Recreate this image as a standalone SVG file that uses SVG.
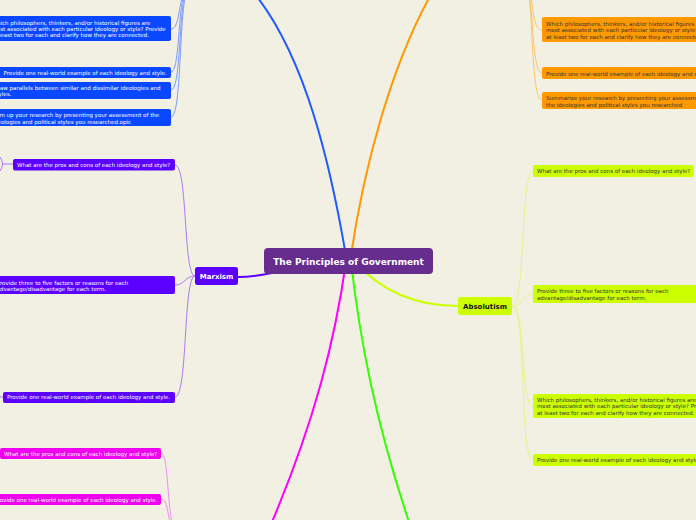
<svg xmlns="http://www.w3.org/2000/svg" width="696" height="520" viewBox="0 0 696 520">
<style>
.t{font-family:"DejaVu Sans",Verdana,sans-serif;font-size:5.5px}
.w{fill:#ffffff}
.d{fill:#333333}
.c{fill:none;stroke-width:1}
.m{fill:none;stroke-width:2}
.hb{font-family:"DejaVu Sans",Verdana,sans-serif;font-weight:bold;text-anchor:middle}
</style>
<rect width="696" height="520" fill="#f2efe3"/>
<g id="connectors">
  <path class="m" stroke="#1f5cff" d="M347,262 C330,160 305,60 258,-2"/>
  <path class="m" stroke="#ff9900" d="M350,262 C363,170 390,70 429,-2"/>
  <path class="m" stroke="#ff00ff" d="M346,262 C335,340 315,420 272,522"/>
  <path class="m" stroke="#33ff00" d="M351,262 C360,340 375,420 409,522"/>
  <path class="m" stroke="#ccff00" d="M355,262 C385,295 420,306 458,306"/>
  <path class="m" stroke="#5b00ff" d="M238,277 C262,277 272,272 300,268"/>
  <!-- blue children -->
  <path class="c" stroke="#7a9cff" d="M171,29 C178,29 178,14 182,-2"/>
  <path class="c" stroke="#7a9cff" d="M171,72 C179,72 178,20 183,-2"/>
  <path class="c" stroke="#7a9cff" d="M171,90 C180,90 179,25 184,-2"/>
  <path class="c" stroke="#7a9cff" d="M171,117 C181,117 179,30 185,-2"/>
  <!-- orange children -->
  <path class="c" stroke="#ffc46b" d="M542,30 C534,30 534,14 531,-2"/>
  <path class="c" stroke="#ffc46b" d="M542,73 C533,73 533,20 530,-2"/>
  <path class="c" stroke="#ffc46b" d="M542,100 C532,100 533,25 529,-2"/>
  <!-- purple children -->
  <path class="c" stroke="#a77cf0" d="M195,276 C183,276 188,165 175,165"/>
  <path class="c" stroke="#a77cf0" d="M195,276 C185,276 185,285 175,285"/>
  <path class="c" stroke="#a77cf0" d="M195,276 C183,276 188,397 175,397"/>
  <path class="c" stroke="#a77cf0" d="M0,157 Q5,164 0,171 M3,164 H13"/>
  <path class="c" stroke="#a77cf0" d="M0,397 H3"/>
  <!-- lime children -->
  <path class="c" stroke="#e3f58a" d="M512,306 C526,306 520,171 533,171"/>
  <path class="c" stroke="#e3f58a" d="M512,306 C524,306 522,294 533,294"/>
  <path class="c" stroke="#e3f58a" d="M512,306 C526,306 520,406 533,406"/>
  <path class="c" stroke="#e3f58a" d="M512,306 C527,306 519,460 533,460"/>
  <!-- magenta children -->
  <path class="c" stroke="#f08ef0" d="M161,453 C168,453 167,500 172,522"/>
  <path class="c" stroke="#f08ef0" d="M161,499 C167,499 167,510 170,522"/>
</g>
<g id="center">
  <rect x="264" y="248" width="169" height="26" rx="4" fill="#662d8f"/>
  <text class="hb w" x="348.5" y="265" font-size="9">The Principles of Government</text>
</g>
<g id="marxism">
  <rect x="195" y="267" width="43" height="18" rx="2.5" fill="#5b00ff"/>
  <text class="hb w" x="216.5" y="279" font-size="7">Marxism</text>
</g>
<g id="absolutism">
  <rect x="458" y="297" width="54" height="18" rx="2.5" fill="#ccff00"/>
  <text class="hb" x="485" y="309" font-size="7" fill="#111">Absolutism</text>
</g>
<g id="blue-philosophers">
  <rect x="-12" y="16" width="183" height="25" rx="2" fill="#0a48ff"/>
  <text class="t w" x="-8.5" y="24.5">Which philosophers, thinkers, and/or historical figures are</text>
  <text class="t w" x="-8.5" y="31">most associated with each particular ideology or style? Provide</text>
  <text class="t w" x="-8.5" y="37">at least two for each and clarify how they are connected.</text>
</g>
<g id="blue-example">
  <rect x="-12" y="67" width="183" height="11" rx="2" fill="#0a48ff"/>
  <text class="t w" x="3.5" y="74.7">Provide one real-world example of each ideology and style.</text>
</g>
<g id="blue-parallels">
  <rect x="-12" y="82" width="183" height="17" rx="2" fill="#0a48ff"/>
  <text class="t w" x="-6.5" y="89.7">Draw parallels between similar and dissimilar ideologies and</text>
  <text class="t w" x="-6.5" y="96">styles.</text>
</g>
<g id="blue-summary">
  <rect x="-12" y="109" width="183" height="17" rx="2" fill="#0a48ff"/>
  <text class="t w" x="-7.5" y="117">Sum up your research by presenting your assessment of the</text>
  <text class="t w" x="-7.5" y="124">ideologies and political styles you researched.opic</text>
</g>
<g id="orange-philosophers">
  <rect x="542" y="17" width="170" height="25" rx="2" fill="#ff9900"/>
  <text class="t d" x="546" y="25.5">Which philosophers, thinkers, and/or historical figures are</text>
  <text class="t d" x="546" y="32">most associated with each particular ideology or style? Provide</text>
  <text class="t d" x="546" y="38.5">at least two for each and clarify how they are connected.</text>
</g>
<g id="orange-example">
  <rect x="542" y="67" width="170" height="12" rx="2" fill="#ff9900"/>
  <text class="t d" x="546" y="75.5">Provide one real-world example of each ideology and style.</text>
</g>
<g id="orange-summary">
  <rect x="542" y="92" width="170" height="17" rx="2" fill="#ff9900"/>
  <text class="t d" x="546" y="100.3">Summarize your research by presenting your assessment of</text>
  <text class="t d" x="546" y="107">the ideologies and political styles you researched</text>
</g>
<g id="marxism-pros">
  <rect x="13" y="159" width="162" height="11.5" rx="2" fill="#5b00ff"/>
  <text class="t w" x="17" y="167">What are the pros and cons of each ideology and style?</text>
</g>
<g id="marxism-factors">
  <rect x="-8" y="276" width="183" height="18" rx="2" fill="#5b00ff"/>
  <text class="t w" x="-3.3" y="284.7">Provide three to five factors or reasons for each</text>
  <text class="t w" x="-3.3" y="291">advantage/disadvantage for each term.</text>
</g>
<g id="marxism-example">
  <rect x="3" y="392" width="172" height="11" rx="2" fill="#5b00ff"/>
  <text class="t w" x="7" y="399.3">Provide one real-world example of each ideology and style.</text>
</g>
<g id="absolutism-pros">
  <rect x="533" y="165" width="161" height="12" rx="2" fill="#ccff00"/>
  <text class="t d" x="537" y="172.8">What are the pros and cons of each ideology and style?</text>
</g>
<g id="absolutism-factors">
  <rect x="533" y="285" width="170" height="18" rx="2" fill="#ccff00"/>
  <text class="t d" x="537" y="293">Provide three to five factors or reasons for each</text>
  <text class="t d" x="537" y="299.5">advantage/disadvantage for each term.</text>
</g>
<g id="absolutism-philosophers">
  <rect x="533" y="394" width="170" height="24" rx="2" fill="#ccff00"/>
  <text class="t d" x="537" y="401.5">Which philosophers, thinkers, and/or historical figures are</text>
  <text class="t d" x="537" y="408">most associated with each particular ideology or style? Provide</text>
  <text class="t d" x="537" y="414.5">at least two for each and clarify how they are connected.</text>
</g>
<g id="absolutism-example">
  <rect x="533" y="454" width="170" height="12" rx="2" fill="#ccff00"/>
  <text class="t d" x="537" y="462">Provide one real-world example of each ideology and style.</text>
</g>
<g id="magenta-pros">
  <rect x="0" y="448" width="161" height="11" rx="2" fill="#ee00ee"/>
  <text class="t w" x="4" y="456">What are the pros and cons of each ideology and style?</text>
</g>
<g id="magenta-example">
  <rect x="-8" y="494" width="169" height="11" rx="2" fill="#ee00ee"/>
  <text class="t w" x="-5.6" y="502">Provide one real-world example of each ideology and style.</text>
</g>
</svg>
